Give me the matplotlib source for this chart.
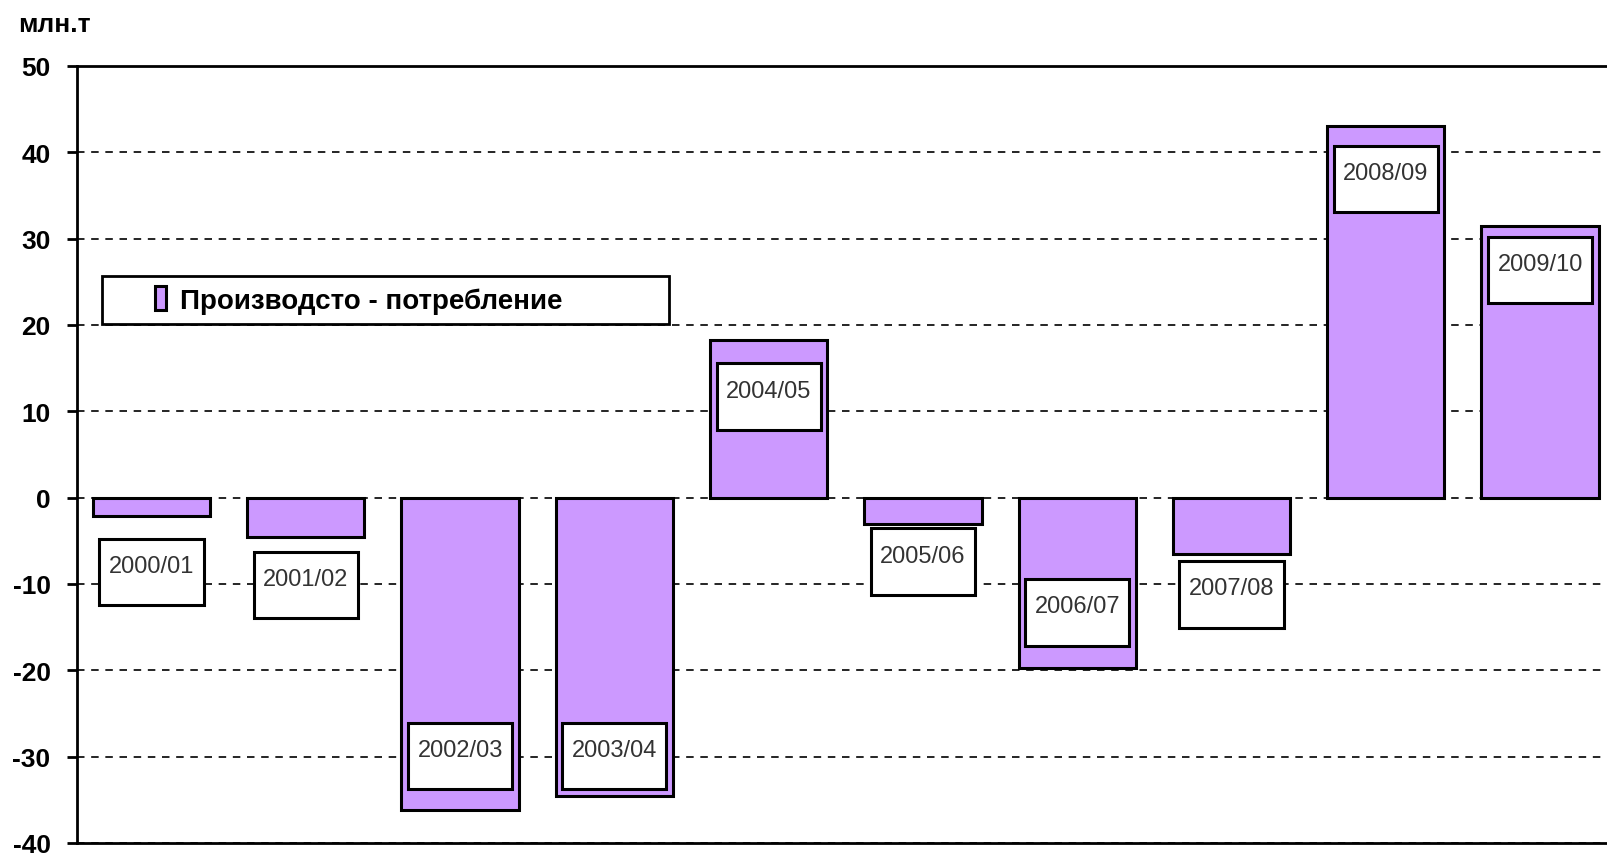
import matplotlib
matplotlib.use('agg')
import matplotlib.pyplot as plt
from matplotlib.patches import Rectangle

seasons = ['2000/01', '2001/02', '2002/03', '2003/04', '2004/05',
           '2005/06', '2006/07', '2007/08', '2008/09', '2009/10']
balance = [-2.1, -4.5, -36.2, -34.5, 18.3, -3.0, -19.7, -6.5, 43.0, 31.5]
# where the season tags sit (centre of each white box)
label_y = [-8.6, -10.1, -29.9, -29.9, 11.7, -7.4, -13.3, -11.2, 36.9, 26.4]
yticks = [-40, -30, -20, -10, 0, 10, 20, 30, 40, 50]
legend_text = 'Производсто - потребление'
unit_text = 'млн.т'

plt.rcParams['font.family'] = ['Liberation Sans', 'DejaVu Sans']
plt.rcParams['axes.unicode_minus'] = False

fig = plt.figure(figsize=(16.08, 8.54), dpi=100)
ax = fig.add_axes([77 / 1608, 10 / 854, 1 - 77 / 1608, 777 / 854])

x = list(range(len(seasons)))
bars = ax.bar(x, balance, width=0.76, color='#CC99FF', edgecolor='black',
              linewidth=2.2, zorder=2, label=legend_text)

ax.set_xlim(-0.483, 9.44)
ax.set_ylim(-40, 50)
ax.set_yticks(yticks)
ax.set_xticks([])
ax.set_axisbelow(True)
ax.yaxis.grid(True, color='black', linestyle=(0, (4.5, 4)), linewidth=1.2)

for s in ['left', 'top', 'bottom']:
    ax.spines[s].set_linewidth(2.0)
ax.spines['right'].set_visible(False)
ax.tick_params(axis='y', direction='out', length=7, width=2, pad=12,
               labelsize=19)
for t in ax.get_yticklabels():
    t.set_fontweight('bold')

# season tags in white boxes
bw, bh = 0.675, 7.7
for xi, yi, name in zip(x, label_y, seasons):
    ax.add_patch(Rectangle((xi - bw / 2, yi - bh / 2), bw, bh,
                           facecolor='white', edgecolor='black',
                           linewidth=2.2, zorder=3))
    ax.text(xi, yi + 0.7, name, ha='center', va='center', fontsize=17,
            color='#333333', zorder=4)

# legend with its own frame
ax.add_patch(Rectangle(((102 - 77) / 1531, (844 - 325) / 777),
                       (669 - 102) / 1531, 48 / 777, transform=ax.transAxes,
                       facecolor='white', edgecolor='black', linewidth=2.0,
                       zorder=4))
leg = ax.legend(loc='center left', bbox_to_anchor=((155 - 77) / 1531, (844 - 301) / 777),
                frameon=False, borderpad=0, borderaxespad=0,
                handlelength=0.4, handleheight=0.9, handletextpad=0.5,
                prop={'weight': 'bold', 'size': 20})
leg.set_zorder(5)

fig.text(18 / 1608, 1 - 25 / 854, unit_text, ha='left', va='center',
         fontsize=19, fontweight='bold')

fig.savefig('out.png', dpi=100, facecolor='white')
